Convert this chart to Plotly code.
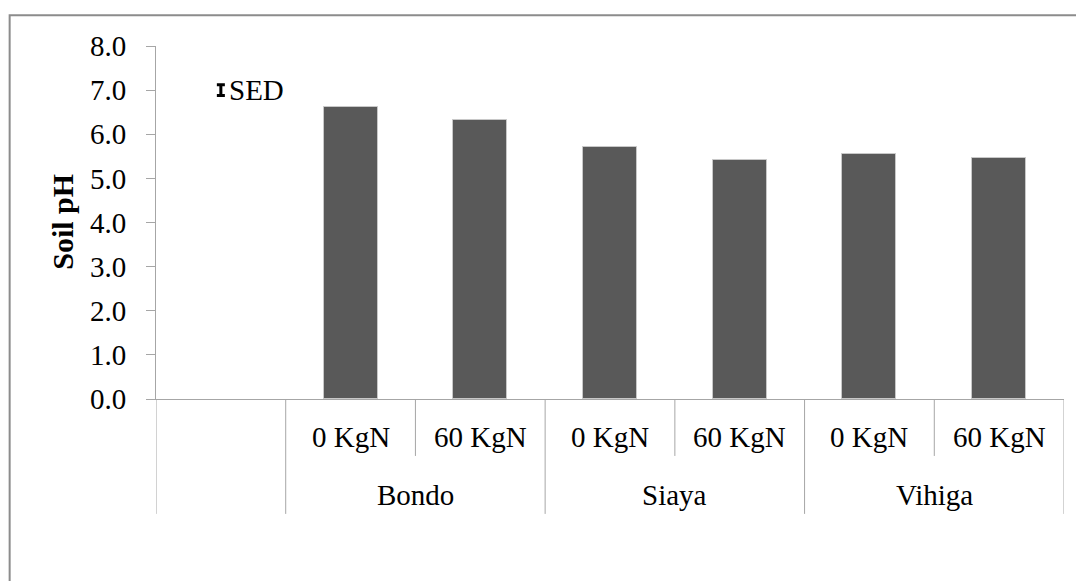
import plotly.graph_objects as go

# ---- data ----
sites = ["Bondo", "Siaya", "Vihiga"]
treatments = ["0 KgN", "60 KgN"]
soil_ph = [6.61, 6.32, 5.70, 5.41, 5.56, 5.47]
sed_value = 7.0
sed_error = 0.12
y_ticks = [0, 1, 2, 3, 4, 5, 6, 7, 8]

# ---- layout geometry (window pixels; page body has an 8px margin) ----
OFF = 8
W, H = 1084 - OFF, 581 - OFF
plot_left, plot_right, plot_top, plot_bottom = 155.5 - OFF, 1064.4 - OFF, 45.7 - OFF, 399 - OFF
L, R, T, B = plot_left, W - plot_right, plot_top, H - plot_bottom
pw, ph = W - L - R, H - T - B

def px_x(p):
    return (p - OFF - L) / pw

def px_y(p):
    return (plot_bottom - (p - OFF)) / ph

FONT = "Liberation Serif"
AX = "#a6a6a6"

bar_x = []
labels_sub = []
k = 1
for s in sites:
    for t in treatments:
        bar_x.append(k + 0.5)
        labels_sub.append(t)
        k += 1

fig = go.Figure()
fig.add_trace(go.Bar(
    x=bar_x, y=soil_ph, width=0.416,
    marker=dict(color="#595959", line=dict(color="#c8c8c8", width=1)),
    showlegend=False, hoverinfo="y",
))
fig.add_trace(go.Scatter(
    x=[0.5], y=[sed_value], mode="markers",
    marker=dict(size=1, color="rgba(0,0,0,0)"),
    error_y=dict(type="data", array=[sed_error], color="black", thickness=3, width=4),
    showlegend=False, hoverinfo="skip",
))

shapes = []
annotations = []
n_cat = 1 + len(bar_x)
long_lines = [0, 1] + [1 + 2 * (i + 1) for i in range(len(sites))]
short_lines = [1 + 2 * i + 1 for i in range(len(sites))]
for xv in long_lines:
    shapes.append(dict(type="line", xref="x", yref="paper", x0=xv, x1=xv,
                       y0=0, y1=px_y(514), line=dict(color=AX, width=1)))
for xv in short_lines:
    shapes.append(dict(type="line", xref="x", yref="paper", x0=xv, x1=xv,
                       y0=0, y1=px_y(456), line=dict(color=AX, width=1)))

# outer border
shapes.append(dict(type="rect", xref="paper", yref="paper",
                   x0=px_x(OFF + 1), x1=px_x(1110), y0=px_y(15), y1=px_y(620),
                   line=dict(color="#8c8c8c", width=2), fillcolor="rgba(0,0,0,0)",
                   layer="below"))

for xv, lab in zip(bar_x, labels_sub):
    annotations.append(dict(x=xv, y=px_y(437), xref="x", yref="paper", text=lab,
                            showarrow=False, xanchor="center", yanchor="middle",
                            font=dict(family=FONT, size=29, color="black")))
for i, s in enumerate(sites):
    annotations.append(dict(x=1 + 2 * i + 1, y=px_y(495), xref="x", yref="paper", text=s,
                            showarrow=False, xanchor="center", yanchor="middle",
                            font=dict(family=FONT, size=29, color="black")))

annotations.append(dict(x=px_x(62), y=px_y(222), xref="paper", yref="paper", text="<b>Soil pH</b>",
                        textangle=-90, showarrow=False, xanchor="center", yanchor="middle",
                        font=dict(family=FONT, size=30, color="black")))
annotations.append(dict(x=0.5, y=sed_value, xref="x", yref="y", text="SED", xshift=6,
                        showarrow=False, xanchor="left", yanchor="middle",
                        font=dict(family=FONT, size=29, color="black")))

fig.update_layout(
    width=W, height=H,
    margin=dict(l=L, r=R, t=T, b=B, pad=0),
    paper_bgcolor="white", plot_bgcolor="white",
    shapes=shapes, annotations=annotations,
    bargap=0,
    xaxis=dict(range=[0, n_cat], showgrid=False, zeroline=False, showticklabels=False,
               showline=True, linecolor=AX, linewidth=1, ticks="", fixedrange=True),
    yaxis=dict(range=[0, 8], tickvals=y_ticks, tickformat=".1f", showgrid=False, zeroline=False,
               showline=True, linecolor=AX, linewidth=1, ticks="outside", ticklen=9,
               tickcolor=AX, tickwidth=1, ticklabelstandoff=14,
               tickfont=dict(family=FONT, size=29, color="black"), fixedrange=True),
)

fig.write_html("out.html")
